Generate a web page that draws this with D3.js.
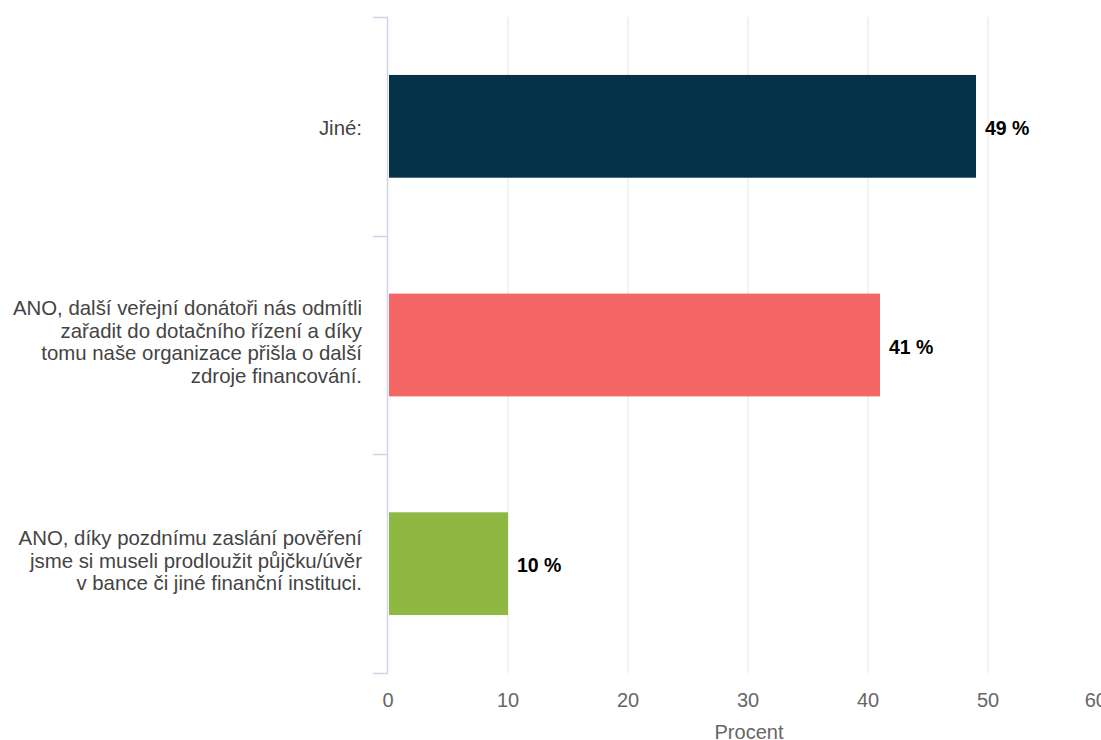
<!DOCTYPE html>
<html>
<head>
<meta charset="utf-8">
<script src="https://cdn.jsdelivr.net/npm/d3@7"></script>
<style>
  html, body { margin: 0; padding: 0; background: #fff; }
  svg { display: block; font-family: "Liberation Sans", Arial, sans-serif; }
</style>
</head>
<body>
<svg id="chart" width="1101" height="740"></svg>
<script>
// Answers (each label is wrapped into lines) and their share in percent
const categories = [
  ["Jiné:"],
  ["ANO, další veřejní donátoři nás odmítli", "zařadit do dotačního řízení a díky", "tomu naše organizace přišla o další", "zdroje financování."],
  ["ANO, díky pozdnímu zaslání pověření", "jsme si museli prodloužit půjčku/úvěr", "v bance či jiné finanční instituci."]
];
const values = [49, 41, 10];
const barColors = ["#053249", "#f56767", "#8fb843"];
const xTicks = [0, 10, 20, 30, 40, 50, 60];
const axisTitle = "Procent";

const svg = d3.select("#chart");
const margin = { left: 388, top: 17, right: -7, bottom: 67 };
const W = 1101, H = 740;

const x = d3.scaleLinear().domain([0, 60]).range([margin.left, W - margin.right]);
const y = d3.scaleBand().domain(d3.range(categories.length))
  .range([margin.top, H - margin.bottom]).paddingInner(0.53).paddingOuter(0.265);

// vertical grid lines
svg.append("g").selectAll("line").data(xTicks.filter(d => d > 0)).join("line")
  .attr("x1", d => x(d)).attr("x2", d => x(d))
  .attr("y1", margin.top).attr("y2", H - margin.bottom)
  .attr("stroke", "#e6e6e6").attr("stroke-width", 1);

// category axis line with tick marks at band edges
const bandEdges = d3.range(categories.length + 1).map(i => margin.top + i * (H - margin.bottom - margin.top) / categories.length);
svg.append("line")
  .attr("x1", margin.left - 0.5).attr("x2", margin.left - 0.5)
  .attr("y1", margin.top).attr("y2", H - margin.bottom)
  .attr("stroke", "#ccd6eb").attr("stroke-width", 1.5);
svg.append("g").selectAll("line").data(bandEdges).join("line")
  .attr("x1", margin.left - 15).attr("x2", margin.left)
  .attr("y1", d => Math.round(d) + 0.5).attr("y2", d => Math.round(d) + 0.5)
  .attr("stroke", "#ccd6eb").attr("stroke-width", 1.5);

// bars
svg.append("g").selectAll("rect").data(values).join("rect")
  .attr("x", x(0) + 1)
  .attr("y", (d, i) => y(i))
  .attr("width", d => x(d) - x(0) - 1)
  .attr("height", y.bandwidth())
  .attr("fill", (d, i) => barColors[i]);

// value labels
svg.append("g").selectAll("text").data(values).join("text")
  .attr("x", d => x(d) + 9)
  .attr("y", (d, i) => y(i) + y.bandwidth() / 2 + 2)
  .attr("dy", "0.35em")
  .attr("font-size", 19.5).attr("font-weight", "bold").attr("fill", "#000")
  .text(d => d + " %");

// category labels
const catG = svg.append("g");
categories.forEach((lines, i) => {
  const cy = y(i) + y.bandwidth() / 2 + (lines.length > 1 ? -3 : 2);
  const lh = 22.5;
  const t = catG.append("text")
    .attr("text-anchor", "end").attr("font-size", 20.4).attr("fill", "#444");
  lines.forEach((ln, j) => {
    t.append("tspan")
      .attr("x", 362)
      .attr("y", cy + (j - (lines.length - 1) / 2) * lh)
      .attr("dy", "0.35em")
      .text(ln);
  });
});

// x tick labels; the last one is justified so it ends at its grid line
const lastTick = xTicks[xTicks.length - 1];
svg.append("g").selectAll("text").data(xTicks).join("text")
  .attr("x", d => d === lastTick ? x(d) - 1 : x(d)).attr("y", 700)
  .attr("dy", "0.35em")
  .attr("text-anchor", d => d === lastTick ? "end" : "middle")
  .attr("font-size", 20).attr("fill", "#666")
  .text(d => d);

// axis title
svg.append("text")
  .attr("x", (x(0) + x(60)) / 2 + 1).attr("y", 732)
  .attr("dy", "0.35em")
  .attr("text-anchor", "middle").attr("font-size", 20).attr("fill", "#666")
  .text(axisTitle);
</script>
</body>
</html>
